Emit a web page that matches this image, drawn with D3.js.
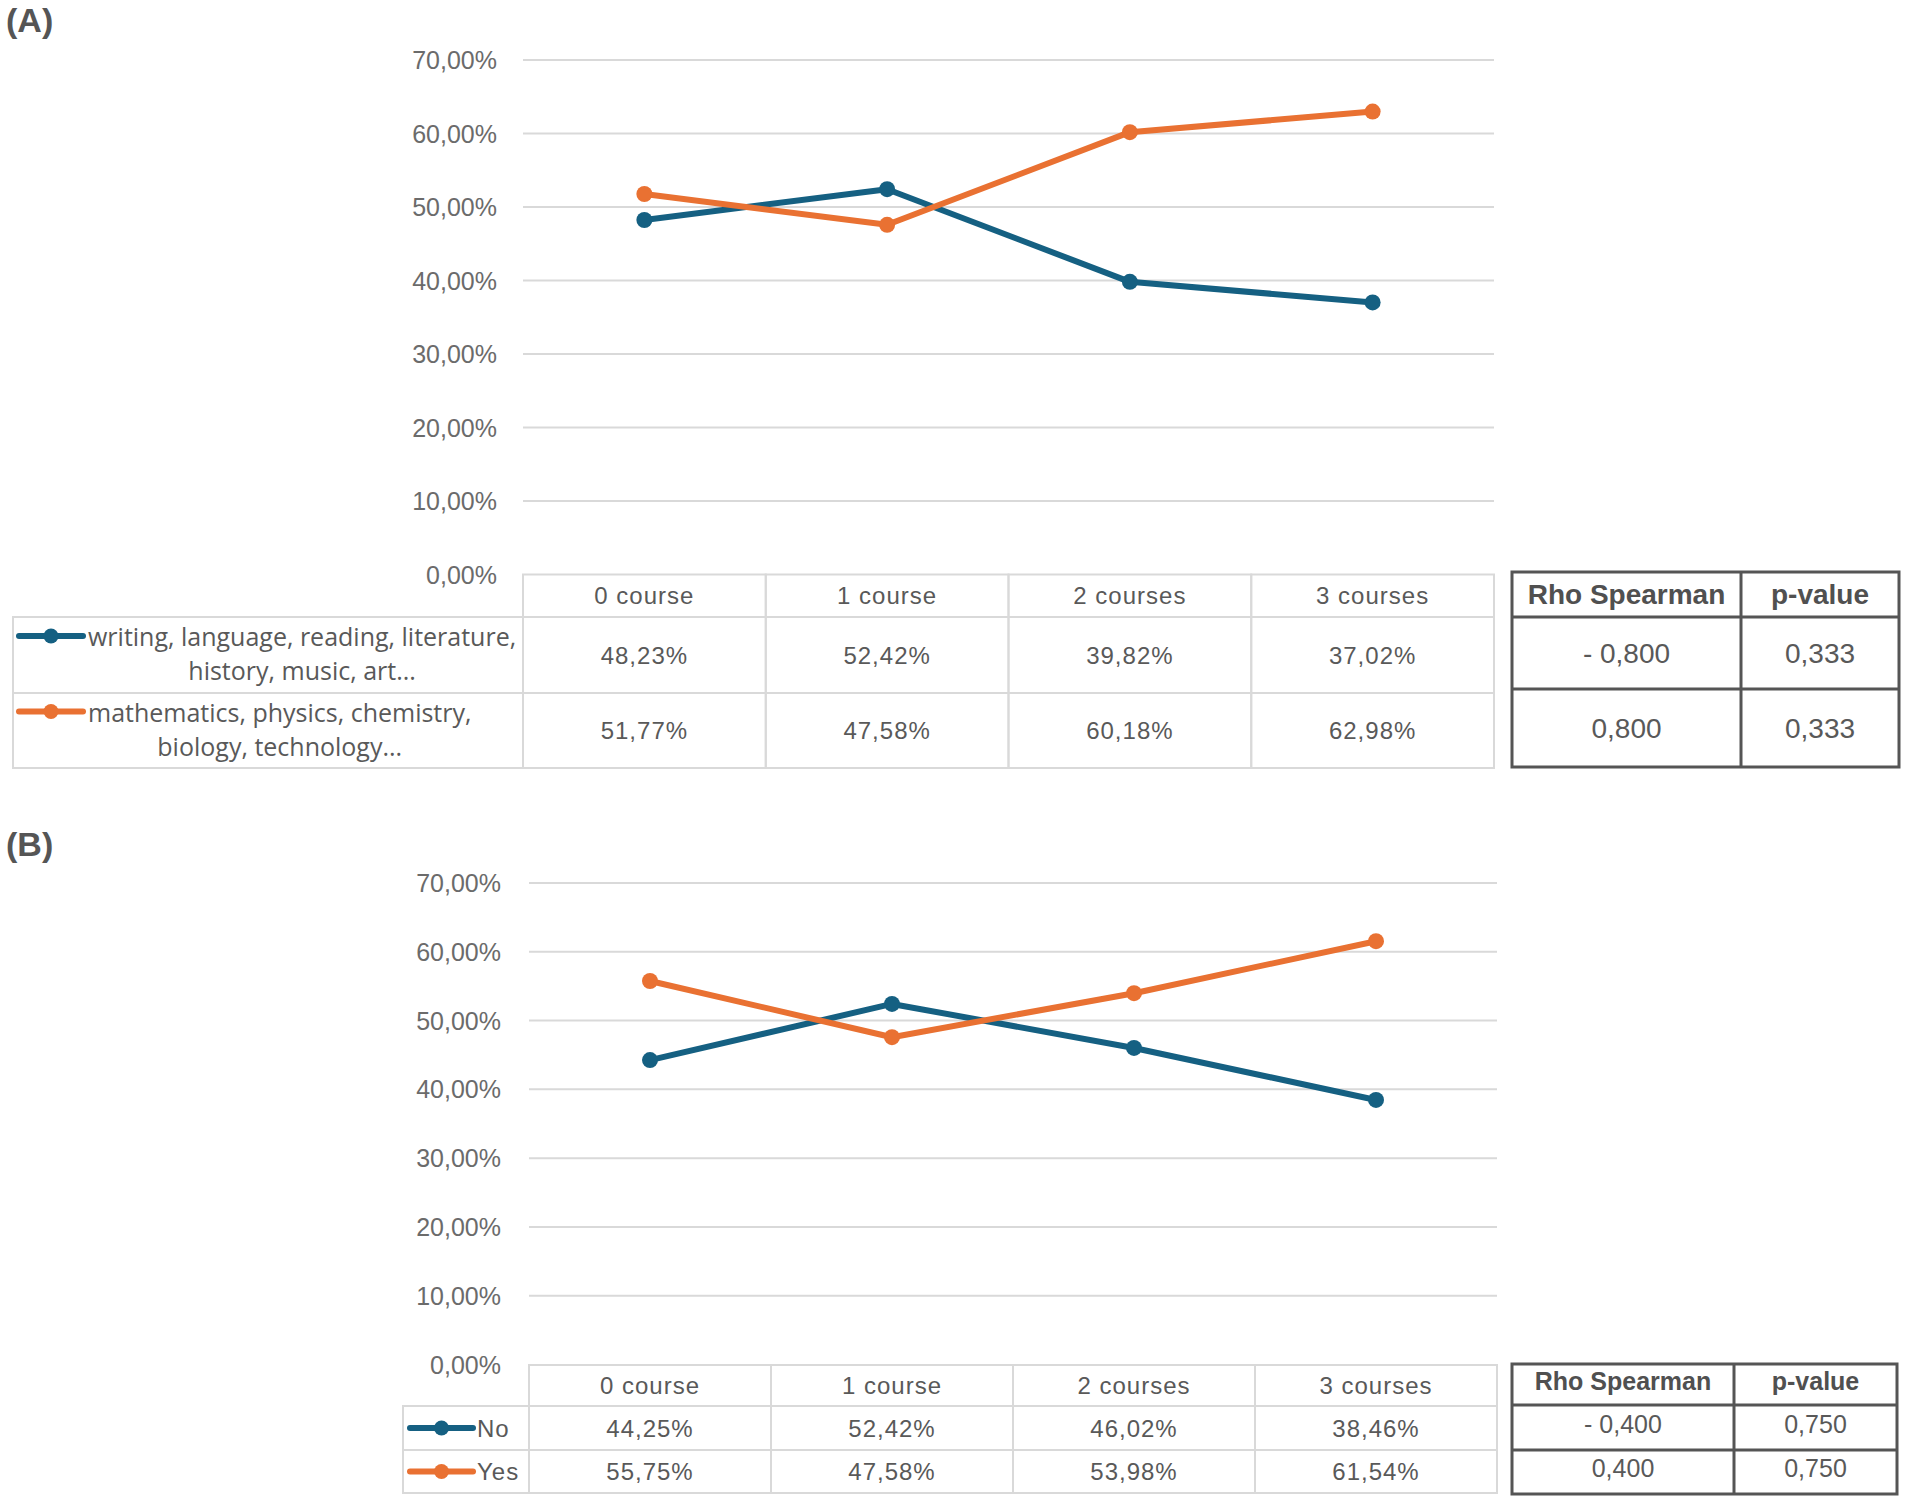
<!DOCTYPE html>
<html>
<head>
<meta charset="utf-8">
<script src="https://cdn.jsdelivr.net/npm/d3@7"></script>
<style>
  body { margin: 0; background: #fff; }
  svg { display: block; }
</style>
</head>
<body>
<svg id="chart" width="1907" height="1503"></svg>
<script>
// categories and ticks
const courses = ['0 course', '1 course', '2 courses', '3 courses'];
const yTicks = [0, 0.1, 0.2, 0.3, 0.4, 0.5, 0.6, 0.7];
const seriesColors = ['#156082', '#e97132'];
const spearmanHeader = ['Rho Spearman', 'p-value'];

// panel A
const aLegend = [
  ['writing, language, reading, literature,', 'history, music, art...'],
  ['mathematics, physics, chemistry,', 'biology, technology...']
];
const aHumanities = [0.4823, 0.5242, 0.3982, 0.3702];
const aSciences = [0.5177, 0.4758, 0.6018, 0.6298];
const aSpearman = [['- 0,800', '0,333'], ['0,800', '0,333']];

// panel B
const bLegend = [['No'], ['Yes']];
const bNo = [0.4425, 0.5242, 0.4602, 0.3846];
const bYes = [0.5575, 0.4758, 0.5398, 0.6154];
const bSpearman = [['- 0,400', '0,750'], ['0,400', '0,750']];

const locale = d3.formatLocale({ decimal: ',', thousands: '.', grouping: [3], currency: ['', ''] });
const pct = locale.format('.2%');

const svg = d3.select('#chart');
const TXT = '#595959';
const GRID = '#d9d9d9';

function drawPanel(cfg) {
  const g = svg.append('g');

  g.append('text')
    .attr('x', cfg.labelX)
    .attr('y', cfg.labelY)
    .attr('font-family', '"Liberation Sans Narrow", "Liberation Sans", sans-serif')
    .attr('font-weight', 'bold')
    .attr('font-size', 34)
    .attr('fill', '#555')
    .text(cfg.label);

  const x = d3.scaleBand().domain(courses).range([cfg.left, cfg.right]);
  const y = d3.scaleLinear().domain([0, 0.7]).range([cfg.bottom, cfg.top]);
  const cx = c => x(c) + x.bandwidth() / 2;

  // gridlines
  g.selectAll('line.grid')
    .data(yTicks.filter(t => t > 0))
    .join('line')
    .attr('class', 'grid')
    .attr('x1', cfg.left)
    .attr('x2', cfg.right)
    .attr('y1', d => y(d))
    .attr('y2', d => y(d))
    .attr('stroke', GRID)
    .attr('stroke-width', 2);

  // y tick labels
  g.selectAll('text.tick')
    .data(yTicks)
    .join('text')
    .attr('class', 'tick')
    .attr('x', cfg.tickRight)
    .attr('y', d => y(d))
    .attr('text-anchor', 'end')
    .attr('dominant-baseline', 'central')
    .attr('font-family', '"Liberation Sans", Arial, sans-serif')
    .attr('font-size', 25)
    .attr('fill', '#6b6b6b')
    .text(d => pct(d));

  // lines + markers
  const line = d3.line().x((d, i) => cx(courses[i])).y(d => y(d));
  cfg.series.forEach((s, k) => {
    g.append('path')
      .datum(s)
      .attr('d', line)
      .attr('fill', 'none')
      .attr('stroke', seriesColors[k])
      .attr('stroke-width', 6)
      .attr('stroke-linejoin', 'round');
    g.selectAll(null)
      .data(s)
      .join('circle')
      .attr('cx', (d, i) => cx(courses[i]))
      .attr('cy', d => y(d))
      .attr('r', 8)
      .attr('fill', seriesColors[k]);
  });

  // data table
  const rows = cfg.rows;
  const tableFont = '"Liberation Sans", Arial, sans-serif';
  const tg = g.append('g');
  courses.forEach(c => {
    tg.append('rect')
      .attr('x', x(c)).attr('y', rows[0])
      .attr('width', x.bandwidth()).attr('height', rows[3] - rows[0])
      .attr('fill', 'none').attr('stroke', GRID).attr('stroke-width', 2);
  });
  tg.append('rect')
    .attr('x', cfg.legendLeft).attr('y', rows[1])
    .attr('width', cfg.left - cfg.legendLeft).attr('height', rows[3] - rows[1])
    .attr('fill', 'none').attr('stroke', GRID).attr('stroke-width', 2);
  [rows[1], rows[2]].forEach(ry => {
    tg.append('line')
      .attr('x1', cfg.legendLeft).attr('x2', cfg.right)
      .attr('y1', ry).attr('y2', ry)
      .attr('stroke', GRID).attr('stroke-width', 2);
  });

  tg.selectAll('text.head')
    .data(courses)
    .join('text')
    .attr('class', 'head')
    .attr('x', cx)
    .attr('y', (rows[0] + rows[1]) / 2)
    .attr('text-anchor', 'middle')
    .attr('dominant-baseline', 'central')
    .attr('font-family', tableFont)
    .attr('font-size', 24)
    .attr('letter-spacing', 1)
    .attr('fill', TXT)
    .text(d => d);

  cfg.series.forEach((s, k) => {
    const rc = (rows[k + 1] + rows[k + 2]) / 2;
    tg.selectAll(null)
      .data(s)
      .join('text')
      .attr('x', (d, i) => cx(courses[i]))
      .attr('y', rc)
      .attr('text-anchor', 'middle')
      .attr('dominant-baseline', 'central')
      .attr('font-family', tableFont)
      .attr('font-size', 24)
      .attr('letter-spacing', 1)
      .attr('fill', TXT)
      .text(d => pct(d));

    // legend key
    const lines = cfg.legend[k];
    const firstY = lines.length > 1 ? rc - cfg.lineGap / 2 - 2 : rc;
    tg.append('line')
      .attr('x1', cfg.keyX[0]).attr('x2', cfg.keyX[1])
      .attr('y1', firstY).attr('y2', firstY)
      .attr('stroke', seriesColors[k]).attr('stroke-width', 6)
      .attr('stroke-linecap', 'round');
    tg.append('circle')
      .attr('cx', (cfg.keyX[0] + cfg.keyX[1]) / 2).attr('cy', firstY)
      .attr('r', 7.5).attr('fill', seriesColors[k]);
    const $lab = tg.selectAll(null)
      .data(lines)
      .join('text')
      .attr('x', cfg.legendTextX)
      .attr('y', (d, i) => firstY + i * cfg.lineGap)
      .attr('text-anchor', 'start')
      .attr('dominant-baseline', 'central')
      .attr('font-family', cfg.legendFont)
      .attr('font-size', cfg.legendSize)
      .attr('letter-spacing', cfg.legendSpacing)
      .attr('fill', TXT)
      .text(d => d);
    // wrapped lines are centred on the widest one, block starts after the key
    if (lines.length > 1) {
      const widest = d3.max($lab.nodes(), n => n.getComputedTextLength());
      $lab.attr('text-anchor', 'middle').attr('x', cfg.legendTextX + widest / 2);
    }
  });

  // Spearman table
  const sx = cfg.spX, sy = cfg.spY;
  const sg = g.append('g');
  sg.append('rect')
    .attr('x', sx[0]).attr('y', sy[0])
    .attr('width', sx[2] - sx[0]).attr('height', sy[3] - sy[0])
    .attr('fill', 'none').attr('stroke', '#555').attr('stroke-width', 3);
  sg.append('line')
    .attr('x1', sx[1]).attr('x2', sx[1]).attr('y1', sy[0]).attr('y2', sy[3])
    .attr('stroke', '#555').attr('stroke-width', 3);
  [sy[1], sy[2]].forEach(ry => {
    sg.append('line')
      .attr('x1', sx[0]).attr('x2', sx[2]).attr('y1', ry).attr('y2', ry)
      .attr('stroke', '#555').attr('stroke-width', 3);
  });
  const colC = [(sx[0] + sx[1]) / 2, (sx[1] + sx[2]) / 2];
  sg.selectAll(null)
    .data(spearmanHeader)
    .join('text')
    .attr('x', (d, i) => colC[i])
    .attr('y', (sy[0] + sy[1]) / 2 + cfg.spShift)
    .attr('text-anchor', 'middle')
    .attr('dominant-baseline', 'central')
    .attr('font-family', '"Liberation Sans", Arial, sans-serif')
    .attr('font-weight', 'bold')
    .attr('font-size', cfg.spSize)
    .attr('fill', '#505050')
    .text(d => d);
  cfg.spearman.forEach((row, r) => {
    sg.selectAll(null)
      .data(row)
      .join('text')
      .attr('x', (d, i) => colC[i])
      .attr('y', (sy[r + 1] + sy[r + 2]) / 2 + cfg.spShift)
      .attr('text-anchor', 'middle')
      .attr('dominant-baseline', 'central')
      .attr('font-family', '"Liberation Sans", Arial, sans-serif')
      .attr('font-size', cfg.spSize)
      .attr('fill', TXT)
      .text(d => d);
  });
}

drawPanel({
  label: '(A)', labelX: 6, labelY: 32,
  left: 523, right: 1494, top: 60, bottom: 574.5, tickRight: 497,
  series: [aHumanities, aSciences],
  legend: aLegend,
  rows: [574.5, 617, 693, 768],
  legendLeft: 13, keyX: [19, 83], legendTextX: 88,
  legendFont: '"Open Sans", sans-serif', legendSize: 25, legendSpacing: 0, lineGap: 34,
  spX: [1512, 1741, 1899], spY: [572, 617, 689, 767], spSize: 28, spShift: 0,
  spearman: aSpearman
});

drawPanel({
  label: '(B)', labelX: 6, labelY: 856,
  left: 529, right: 1497, top: 883, bottom: 1364.5, tickRight: 501,
  series: [bNo, bYes],
  legend: bLegend,
  rows: [1365, 1406, 1450, 1493],
  legendLeft: 403, keyX: [410, 473], legendTextX: 477,
  legendFont: '"Liberation Sans", Arial, sans-serif', legendSize: 24, legendSpacing: 1, lineGap: 0,
  spX: [1512, 1734, 1897], spY: [1364, 1405, 1450, 1494], spSize: 25, spShift: -4,
  spearman: bSpearman
});
</script>
</body>
</html>
